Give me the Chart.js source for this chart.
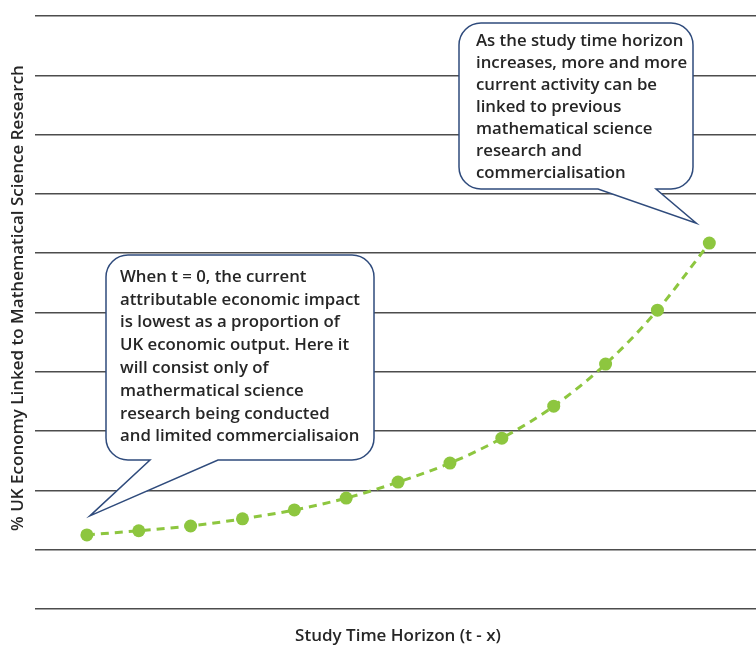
<!DOCTYPE html>
<html>
<head>
<meta charset="utf-8">
<script src="https://cdn.jsdelivr.net/npm/chart.js@4.4.1/dist/chart.umd.min.js"></script>
<style>
  html, body { margin: 0; padding: 0; background: #fff; }
  .chart-wrapper { width: 756px; height: 646px; position: relative; }
</style>
</head>
<body>
<div class="chart-wrapper">
  <canvas id="horizonChart"></canvas>
</div>
<script>
// study horizon steps (t, t-1, ... ) and share of economy linked to research
const horizonSteps = [0, 1, 2, 3, 4, 5, 6, 7, 8, 9, 10, 11, 12];
const linkedShare = [1.25, 1.32, 1.40, 1.52, 1.67, 1.87, 2.14, 2.46, 2.88, 3.42, 4.13, 5.04, 6.17];
const gridTicks = [0, 1, 2, 3, 4, 5, 6, 7, 8, 9, 10];

const xTitle = 'Study Time Horizon (t - x)';
const yTitle = '% UK Economy Linked to Mathematical Science Research';

const leftNote = [
    'When t = 0, the current',
    'attributable economic impact',
    'is lowest as a proportion of',
    'UK economic output. Here it',
    'will consist only of',
    'mathermatical science',
    'research being conducted',
    'and limited commercialisaion'
];
const rightNote = [
    'As the study time horizon',
    'increases, more and more',
    'current activity can be',
    'linked to previous',
    'mathematical science',
    'research and',
    'commercialisation'
];

const textFont = '600 16.8px "Open Sans", sans-serif';
const textColor = '#262626';

function bubble(ctx, b, tip) {
    const { x, y, w, h, r, t1, t2 } = b;
    ctx.beginPath();
    ctx.moveTo(x + r, y);
    ctx.lineTo(x + w - r, y);
    ctx.arcTo(x + w, y, x + w, y + r, r);
    ctx.lineTo(x + w, y + h - r);
    ctx.arcTo(x + w, y + h, x + w - r, y + h, r);
    ctx.lineTo(t2, y + h);
    ctx.lineTo(tip.x, tip.y);
    ctx.lineTo(t1, y + h);
    ctx.lineTo(x + r, y + h);
    ctx.arcTo(x, y + h, x, y + h - r, r);
    ctx.lineTo(x, y + r);
    ctx.arcTo(x, y, x + r, y, r);
    ctx.closePath();
    ctx.fillStyle = '#ffffff';
    ctx.fill();
    ctx.strokeStyle = '#2f4b7c';
    ctx.lineWidth = 1.5;
    ctx.stroke();
}

const notesPlugin = {
    id: 'notes',
    afterDatasetsDraw(chart) {
        const { ctx, chartArea, scales } = chart;
        const first = { x: scales.x.getPixelForValue(horizonSteps[0]), y: scales.y.getPixelForValue(linkedShare[0]) };
        const n = horizonSteps.length - 1;
        const last = { x: scales.x.getPixelForValue(horizonSteps[n]), y: scales.y.getPixelForValue(linkedShare[n]) };

        ctx.save();
        bubble(ctx, { x: 106, y: 255, w: 268, h: 205, r: 22, t1: 150, t2: 218 }, { x: first.x + 3, y: first.y - 19 });
        bubble(ctx, { x: 459, y: 23, w: 234, h: 166, r: 22, t1: 598, t2: 656 }, { x: last.x - 13, y: last.y - 20 });

        ctx.fillStyle = textColor;
        ctx.font = textFont;
        ctx.textBaseline = 'middle';
        ctx.textAlign = 'left';
        leftNote.forEach((s, i) => ctx.fillText(s, 120, 277 + i * 22.8));
        rightNote.forEach((s, i) => ctx.fillText(s, 476, 41 + i * 22));

        // axis titles
        ctx.font = '600 17px "Open Sans", sans-serif';
        ctx.textAlign = 'center';
        ctx.fillText(xTitle, 398, 636);
        ctx.translate(18, 298);
        ctx.rotate(-Math.PI / 2);
        ctx.fillText(yTitle, 0, 0);
        ctx.restore();
    }
};

new Chart(document.getElementById('horizonChart'), {
    type: 'line',
    data: {
        datasets: [{
            data: horizonSteps.map((s, i) => ({ x: s, y: linkedShare[i] })),
            borderColor: '#8dc63f',
            backgroundColor: '#8dc63f',
            borderWidth: 3,
            borderDash: [8, 6],
            pointRadius: 6.5,
            pointBorderWidth: 0,
            cubicInterpolationMode: 'monotone',
            fill: false
        }]
    },
    options: {
        responsive: true,
        maintainAspectRatio: false,
        animation: false,
        layout: { autoPadding: false, padding: { left: 35, top: 16, right: 0, bottom: 37 } },
        scales: {
            x: {
                type: 'linear',
                min: -1,
                max: 12.9,
                display: true,
                grid: { display: false, drawTicks: false },
                border: { display: false },
                ticks: { display: false }
            },
            y: {
                min: gridTicks[0],
                max: gridTicks[gridTicks.length - 1],
                afterBuildTicks(scale) {
                    scale.ticks = gridTicks.map(v => ({ value: v }));
                },
                grid: { color: '#4d4d4d', lineWidth: 1.5, drawTicks: false, tickLength: 0 },
                border: { display: false },
                ticks: { display: false }
            }
        },
        plugins: {
            legend: { display: false },
            tooltip: { enabled: false }
        }
    },
    plugins: [notesPlugin]
});
</script>
</body>
</html>
